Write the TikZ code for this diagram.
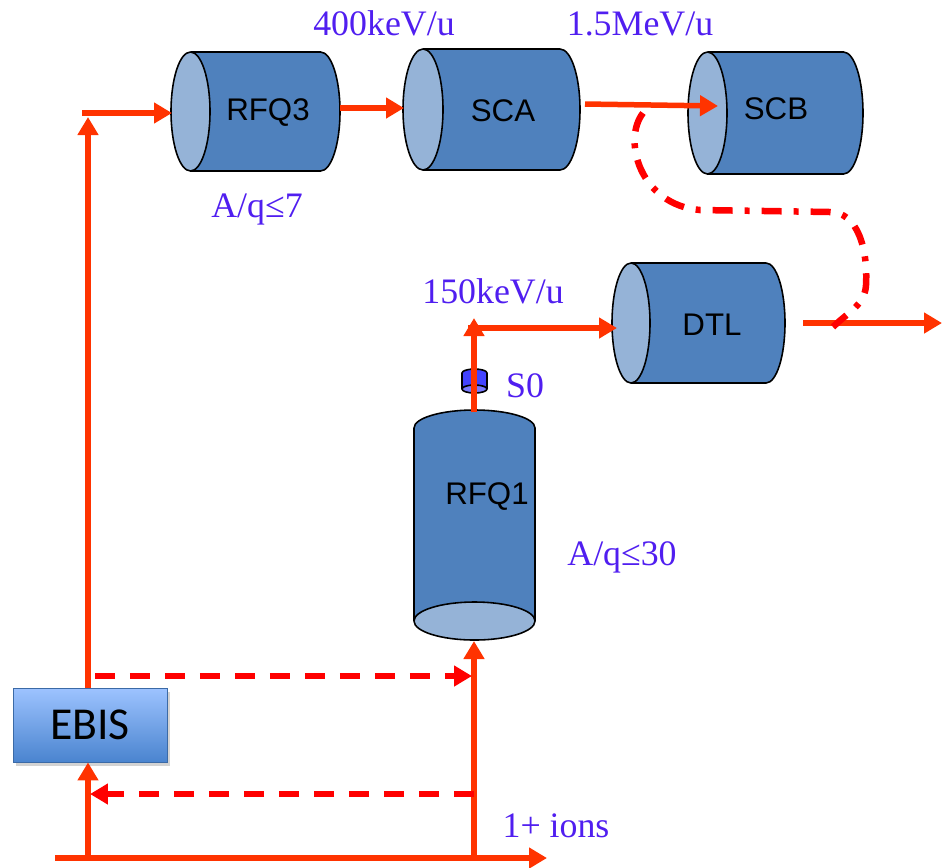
\documentclass[tikz,border=0pt]{standalone}
\usepackage{fontspec}
\setmainfont{Liberation Serif}
\newfontfamily\arialf{Liberation Sans}
\newfontfamily\calib{Carlito}
\usetikzlibrary{arrows.meta,shadows}
\definecolor{cylbody}{HTML}{4F81BD}
\definecolor{cylface}{HTML}{95B3D7}
\definecolor{beam}{HTML}{FF3300}
\definecolor{dashred}{HTML}{FF0000}
\definecolor{lbl}{RGB}{80,30,240}
\definecolor{sblue}{HTML}{4343FF}
\definecolor{sface}{HTML}{7A7AFF}
\definecolor{ebistop}{HTML}{9DC3FF}
\definecolor{ebisbot}{HTML}{4A84CF}
\tikzset{
  beamline/.style={draw=beam, line width=0.11cm, -{Triangle[length=0.36cm,width=0.4cm]}},
  returnline/.style={draw=dashred, line width=0.11cm, dash pattern=on 0.4cm off 0.3cm, -{Triangle[length=0.36cm,width=0.4cm]}},
  dashdotline/.style={draw=dashred, line width=0.13cm, dash pattern=on 0.4cm off 0.24cm on 0.1cm off 0.24cm},
  lbltext/.style={text=lbl, font=\fontsize{20.4}{24}\selectfont, inner sep=0pt, anchor=base},
  cyltext/.style={font=\arialf\fontsize{17.8}{20}\selectfont, inner sep=0pt, anchor=base},
  cyledge/.style={draw=black, line width=0.9pt},
  ebisbox/.style={draw=ebisbot!80!black, line width=0.5pt, top color=ebistop, bottom color=ebisbot,
     minimum width=3.08cm, minimum height=1.48cm, inner sep=0pt,
     drop shadow={shadow xshift=0.06cm, shadow yshift=-0.08cm, opacity=0.35},
     font=\calib\fontsize{26}{30}\selectfont}
}
% horizontal cylinder: #1 left cx, #2 right cx, #3 cy, #4 rx, #5 ry
\newcommand\mycylH[5]{%
  \path[fill=cylbody, cyledge] (#2,#3) ellipse [x radius=#4, y radius=#5];
  \fill[cylbody] (#1,#3-#5) rectangle (#2,#3+#5);
  \draw[cyledge] (#1,#3-#5) -- (#2,#3-#5);
  \draw[cyledge] (#1,#3+#5) -- (#2,#3+#5);
  \path[fill=cylface, cyledge] (#1,#3) ellipse [x radius=#4, y radius=#5];
}
\begin{document}
\begin{tikzpicture}[x=0.02cm, y=-0.02cm]
\useasboundingbox (0,0) rectangle (942,867);

% cylinders
\mycylH{190.5}{320.5}{111.5}{19.5}{59.5}
\mycylH{423}{560}{109.5}{20}{60.5}
\mycylH{707.5}{843.5}{113}{19.5}{61}
\mycylH{631}{766}{323}{19}{60}

% vertical RFQ1
\path[fill=cylbody, cyledge] (474.5,428) ellipse [x radius=60.5, y radius=18];
\fill[cylbody] (414,428) rectangle (535,621);
\draw[cyledge] (414,428) -- (414,621);
\draw[cyledge] (535,428) -- (535,621);
\path[fill=cylface, cyledge] (474.5,621) ellipse [x radius=60.5, y radius=19];

% S0 small cylinder
\path[fill=sblue, cyledge] (474.5,373) ellipse [x radius=12.5, y radius=4];
\fill[sblue] (462,373) rectangle (487,389);
\draw[cyledge] (462,373) -- (462,389);
\draw[cyledge] (487,373) -- (487,389);
\path[fill=sface, cyledge] (474.5,389) ellipse [x radius=12.5, y radius=4];

% cylinder labels
\node[cyltext] (rfq3) at (268,120) {RFQ3};
\node[cyltext] (sca) at (503,121) {SCA};
\node[cyltext] (scb) at (776,119) {SCB};
\node[cyltext] (dtl) at (712,335) {DTL};
\node[cyltext] (rfq1) at (487,504) {RFQ1};

% EBIS
\node[ebisbox] (ebis) at (90,725) {EBIS};

% coordinates
\coordinate (b0) at (55,858);
\coordinate (b1) at (547,858);
\coordinate (jl) at (88,858);
\coordinate (jr) at (474,858);
\coordinate (lt) at (88,117);
\coordinate (ht) at (82,113);
\coordinate (rfq3in) at (172,113);
\coordinate (rfq3out) at (340,108);
\coordinate (scain) at (404,108);
\coordinate (scaout) at (585,104);
\coordinate (scbin) at (718,106);
\coordinate (rfq1in) at (474,641);
\coordinate (rfq1out) at (474,412);
\coordinate (s0top) at (474,318);
\coordinate (hs) at (468,328);
\coordinate (dtlin) at (617,328);
\coordinate (dtlout) at (803,323);
\coordinate (endr) at (942,323);
\coordinate (d1s) at (95,676);
\coordinate (d1e) at (472,676);
\coordinate (d2s) at (474,794);
\coordinate (d2e) at (90,794);
\coordinate (c0) at (643,113);
\coordinate (c1) at (700,210);
\coordinate (c2) at (830,212);
\coordinate (c3) at (866,285);
\coordinate (c4) at (833,327);

% beam lines
\draw[beamline] (b0) -- (b1);
\draw[beamline] (jl) -- (ebis.south -| jl);
\draw[beamline] (ebis.north -| jl) -- (lt);
\draw[beamline] (ht) -- (rfq3in);
\draw[beamline] (rfq3out) -- (scain);
\draw[beamline] (scaout) -- (scbin);
\draw[beamline] (jr) -- (rfq1in);
\draw[beamline] (rfq1out) -- (s0top);
\draw[beamline] (hs) -- (dtlin);
\draw[beamline] (dtlout) -- (endr);

% dashed return lines
\draw[returnline] (d1s) -- (d1e);
\draw[returnline] (d2s) -- (d2e);

% dash-dot bypass
\draw[dashdotline] (c0) .. controls (622,140) and (640,205) .. (c1) -- (c2)
   .. controls (858,212) and (868,250) .. (c3) .. controls (865,305) and (848,312) .. (c4);

% labels
\node[lbltext] (e400) at (384,35) {400keV/u};
\node[lbltext] (e15) at (640,35) {1.5MeV/u};
\node[lbltext] (aq7) at (257,217) {A/q≤7};
\node[lbltext] (e150) at (493,303) {150keV/u};
\node[lbltext] (s0) at (525,397) {S0};
\node[lbltext] (aq30) at (622,565) {A/q≤30};
\node[lbltext] (ions) at (556,837) {1+ ions};
\end{tikzpicture}
\end{document}
